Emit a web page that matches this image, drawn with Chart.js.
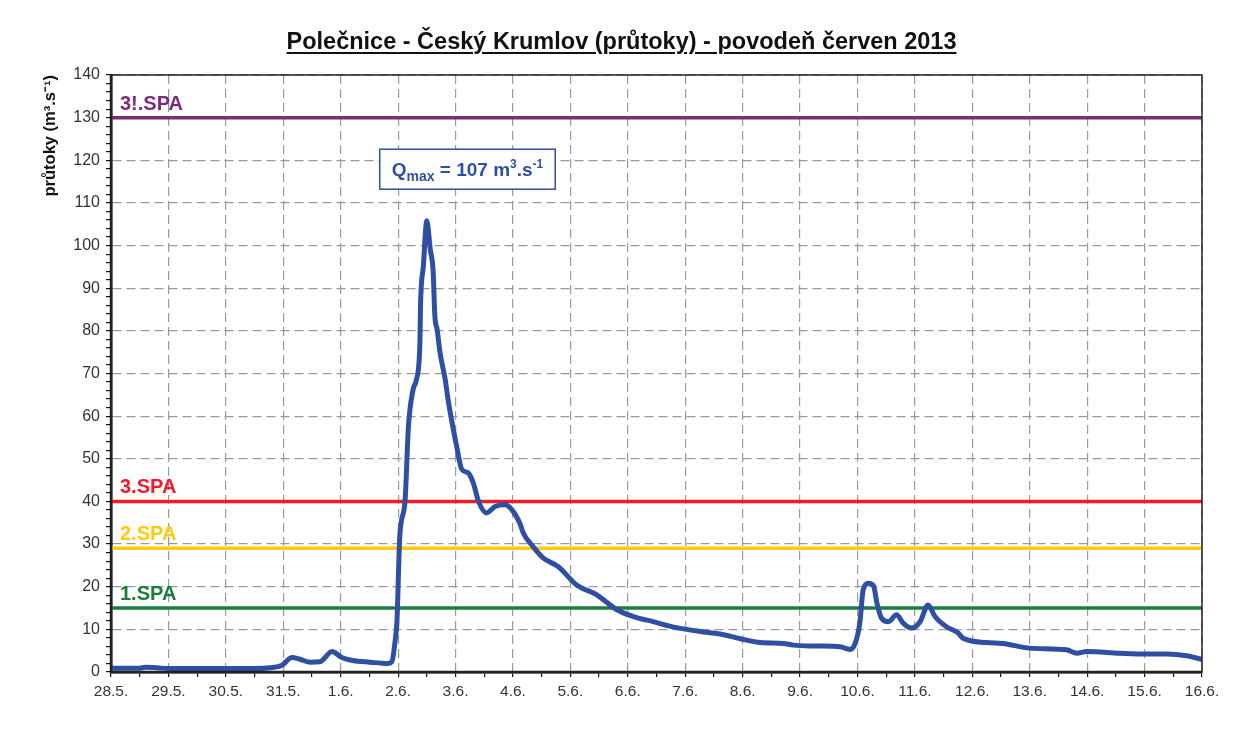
<!DOCTYPE html>
<html lang="cs">
<head>
<meta charset="utf-8">
<script src="https://cdn.jsdelivr.net/npm/chart.js@4.4.1/dist/chart.umd.min.js"></script>
<style>
    body { margin: 0; background: #fff; }
    #obal { position: relative; width: 1250px; height: 730px; }
    #nadpis {
        position: absolute; left: 0; top: 28px; width: 1243px; text-align: center;
        font: bold 23.5px "Liberation Sans", Arial, sans-serif; color: #111;
        text-decoration: underline; text-decoration-thickness: 2px; text-underline-offset: 3px;
    }
</style>
</head>
<body>
<div id="obal">
    <div id="nadpis">Polečnice - Český Krumlov (průtoky) - povodeň červen 2013</div>
    <canvas id="graf"></canvas>
</div>
<script>
/*--------------------DATA--------------------*/
// dny od 28.5. 0:00
let den = [0, 0.5, 0.6, 0.8, 1.0, 1.5, 2.0, 2.5, 2.77, 2.98, 3.15, 3.29, 3.47, 3.64, 3.85, 4.02, 4.21, 4.51, 4.81, 4.89,
    4.95, 4.98, 5.03, 5.12, 5.18, 5.26, 5.32, 5.38, 5.39, 5.44, 5.50, 5.56, 5.61, 5.64, 5.68, 5.73, 5.82, 5.87, 5.93, 6.02,
    6.11, 6.22, 6.31, 6.40, 6.54, 6.69, 6.86, 6.98, 7.12, 7.18, 7.35, 7.53, 7.79, 8.11, 8.46, 8.81, 9.10, 9.44, 9.85, 10.26,
    10.61, 10.96, 11.31, 11.71, 11.88, 12.29, 12.70, 12.87, 12.96, 13.04, 13.10, 13.19, 13.28, 13.34, 13.42, 13.54, 13.68, 13.80, 13.94, 14.09,
    14.23, 14.35, 14.55, 14.75, 14.84, 15.25, 15.53, 16.00, 16.64, 16.82, 16.99, 17.57, 18.04, 18.39, 18.73, 18.99];
let prutok = [0.9, 0.9, 1.1, 1.0, 0.8, 0.8, 0.8, 0.8, 1.0, 1.6, 3.4, 3.0, 2.3, 2.4, 4.8, 3.4, 2.7, 2.3, 2.0, 2.4,
    7.5, 12, 32, 40, 57.6, 66.2, 68.6, 77.3, 85.8, 95.2, 105.8, 99.1, 94, 83.5, 80.3, 74.9, 68.6, 63.9, 59.2, 52.9,
    47.5, 46.7, 44.3, 40, 37.3, 38.8, 39.2, 38.1, 34.9, 32.6, 29.4, 26.7, 24.7, 20.4, 18.1, 14.6, 13.0, 11.8, 10.4, 9.5,
    8.9, 7.8, 6.9, 6.7, 6.3, 6.1, 5.9, 5.3, 6.7, 11.4, 19.3, 20.8, 20.2, 16.1, 12.6, 11.8, 13.4, 11.4, 10.3, 11.8,
    15.7, 13.0, 10.6, 9.2, 7.9, 6.9, 6.7, 5.6, 5.2, 4.4, 4.8, 4.4, 4.2, 4.2, 3.8, 3.0];

let datumy = ['28.5.', '29.5.', '30.5.', '31.5.', '1.6.', '2.6.', '3.6.', '4.6.', '5.6.', '6.6.',
    '7.6.', '8.6.', '9.6.', '10.6.', '11.6.', '12.6.', '13.6.', '14.6.', '15.6.', '16.6.'];

let spaNazvy = ['1.SPA', '2.SPA', '3.SPA', '3!.SPA'];
let spaHodnoty = [15, 29, 40, 130];
let qMax = 107;

/*--------------------STYL--------------------*/
let spaBarvy = ['#1b7d3c', '#ffc90e', '#ee1c2a', '#7b2a7f'];
let modra = '#2f4fa2';
let pismo = '"Liberation Sans", Arial, sans-serif';

/*--------------------GRAF--------------------*/
let datasets = spaHodnoty.map((v, i) => ({
    label: spaNazvy[i],
    data: [{ x: 0, y: v }, { x: datumy.length - 1, y: v }],
    borderColor: spaBarvy[i],
    borderWidth: 3.5,
    pointRadius: 0,
    order: 2
}));
datasets.push({
    label: 'průtok',
    data: den.map((d, i) => ({ x: d, y: prutok[i] })),
    borderColor: modra,
    borderWidth: 5,
    pointRadius: 0,
    cubicInterpolationMode: 'monotone',
    borderCapStyle: 'round',
    borderJoinStyle: 'round',
    order: 1
});

let popisky = {
    id: 'popisky',
    afterDraw(chart) {
        let ctx = chart.ctx;
        let a = chart.chartArea;
        let sx = chart.scales.x, sy = chart.scales.y;
        ctx.save();
        // rám
        ctx.strokeStyle = '#222';
        ctx.lineWidth = 1.5;
        ctx.strokeRect(a.left, a.top, a.right - a.left, a.bottom - a.top);
        ctx.lineWidth = 2.5;
        ctx.beginPath();
        ctx.moveTo(a.left, a.top);
        ctx.lineTo(a.left, a.bottom);
        ctx.lineTo(a.right, a.bottom);
        ctx.stroke();
        // SPA
        ctx.font = 'bold 20px ' + pismo;
        ctx.textBaseline = 'alphabetic';
        ctx.textAlign = 'left';
        spaHodnoty.forEach((v, i) => {
            ctx.fillStyle = spaBarvy[i];
            ctx.fillText(spaNazvy[i], a.left + 9, sy.getPixelForValue(v) - 8);
        });
        // Qmax
        let x0 = sx.getPixelForValue(4.68);
        let y0 = sy.getPixelForValue(122.6);
        let casti = [
            ['Q', 19, 0], ['max', 14, 5], [' = ' + qMax + ' m', 19, 0], ['3', 12, -8], ['.s', 19, 0], ['-1', 12, -8]
        ];
        let w = 0;
        casti.forEach(c => { ctx.font = 'bold ' + c[1] + 'px ' + pismo; w += ctx.measureText(c[0]).width; });
        ctx.fillStyle = '#fff';
        ctx.fillRect(x0, y0, w + 24, 40);
        ctx.strokeStyle = modra;
        ctx.lineWidth = 1.5;
        ctx.strokeRect(x0, y0, w + 24, 40);
        ctx.fillStyle = modra;
        let x = x0 + 12;
        casti.forEach(c => {
            ctx.font = 'bold ' + c[1] + 'px ' + pismo;
            ctx.fillText(c[0], x, y0 + 27 + c[2]);
            x += ctx.measureText(c[0]).width;
        });
        ctx.restore();
    }
};

let graf = new Chart(document.getElementById('graf'), {
    type: 'line',
    data: { datasets: datasets },
    options: {
        responsive: true,
        maintainAspectRatio: false,
        animation: false,
        layout: { padding: { left: 41, top: 75, right: 48, bottom: 28 } },
        plugins: {
            legend: { display: false },
            tooltip: { enabled: false }
        },
        scales: {
            x: {
                type: 'linear',
                min: 0,
                max: datumy.length - 1,
                afterFit: (s) => { s.height = 30; },
                ticks: {
                    stepSize: 0.5,
                    autoSkip: false,
                    maxRotation: 0,
                    padding: 5,
                    color: '#333',
                    font: { family: pismo, size: 15.5 },
                    callback: (v) => Number.isInteger(v) ? datumy[v] : ''
                },
                grid: {
                    color: (c) => Number.isInteger(c.tick.value) ? '#9a9a9a' : 'rgba(0,0,0,0)',
                    tickColor: '#111',
                    tickLength: 5,
                    lineWidth: 1.2
                },
                border: { display: true, color: '#111', width: 2.5, dash: [9, 5] }
            },
            y: {
                min: 0,
                max: 140,
                afterFit: (s) => { s.width = 70; },
                ticks: {
                    stepSize: 2,
                    autoSkip: false,
                    padding: 6,
                    color: '#333',
                    font: { family: pismo, size: 16 },
                    callback: (v) => v % 10 === 0 ? v : ''
                },
                grid: {
                    color: (c) => c.tick.value % 10 === 0 ? '#9a9a9a' : 'rgba(0,0,0,0)',
                    tickColor: '#111',
                    tickLength: 5,
                    lineWidth: 1.2
                },
                border: { display: true, color: '#111', width: 2.5, dash: [9, 5] },
                title: {
                    display: true,
                    text: 'průtoky (m³.s⁻¹)',
                    align: 'end',
                    color: '#111',
                    font: { family: pismo, size: 16.5, weight: 'bold' },
                    padding: { top: 0, bottom: 4 }
                }
            }
        }
    },
    plugins: [popisky]
});
</script>
</body>
</html>
